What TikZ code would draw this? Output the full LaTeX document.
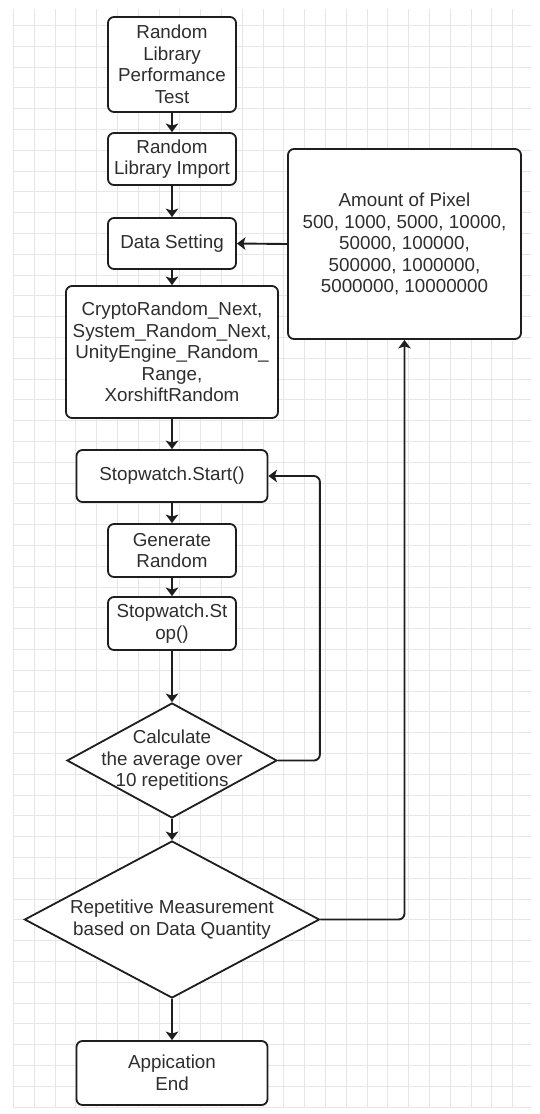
\documentclass[tikz,border=0pt]{standalone}
\usepackage{fontspec}
\setmainfont{Liberation Sans}
\usetikzlibrary{shapes.geometric, arrows.meta}
\definecolor{linecol}{HTML}{1E1E1E}
\definecolor{textcol}{HTML}{2E2E2E}
\definecolor{gridcol}{HTML}{E6E6E6}
\begin{document}
\begin{tikzpicture}[x=1pt, y=1pt]
        \tikzstyle{box-text}=[font=\fontsize{18.8}{21.5}\selectfont, text=textcol, align=center]
        \tikzstyle{process}=[box-text, rectangle, rounded corners=6pt, draw=linecol, line width=1.8pt, fill=white, inner sep=0pt, minimum width=128pt]
        \tikzstyle{decision}=[diamond, draw=linecol, line width=1.8pt, fill=white, inner sep=0pt]
        \tikzstyle{transition}=[-{Stealth[length=8.5pt, width=12.5pt, inset=2pt]}, line width=1.9pt, draw=linecol]
        \useasboundingbox (0,0) rectangle (540,-1114);
        \fill[white] (0,0) rectangle (540,-1114);
        % background grid
        \draw[gridcol, line width=0.7pt, shift={(13.3,-1107)}, step=20.8pt] (0,0) grid (518,1098);

        \node[process, minimum height=95pt] (test-start) at (172,-64.5) {Random\\Library\\Performance\\Test};
        \node[process, minimum height=52pt] (library-import) at (172,-159) {Random\\Library Import};
        \node[process, minimum height=51pt] (data-setting) at (172,-243.5) {Data Setting};
        \node[process, minimum width=212pt, minimum height=132pt] (random-libs) at (172,-352) {CryptoRandom\_Next,\\System\_Random\_Next,\\UnityEngine\_Random\_\\Range,\\XorshiftRandom};
        \node[process, minimum width=191pt, minimum height=52pt] (watch-start) at (172,-476) {Stopwatch.Start()};
        \node[process, minimum height=53pt] (generate) at (172,-550.5) {Generate\\Random};
        \node[process, minimum height=53pt] (watch-stop) at (172,-623.5) {Stopwatch.St\\op()};
        \node[decision, minimum width=210pt, minimum height=115pt, label={[box-text]center:Calculate\\the average over\\10 repetitions}] (average) at (172,-760.5) {};
        \node[decision, minimum width=295pt, minimum height=157pt, label={[box-text]center:Repetitive Measurement\\based on Data Quantity}] (measure) at (172,-919.5) {};
        \node[process, minimum width=191pt, minimum height=64pt] (app-end) at (172,-1073) {Appication\\End};
        \node[process, minimum width=233pt, minimum height=190pt] (pixel-amount) at (404.5,-244) {Amount of Pixel\\500, 1000, 5000, 10000,\\50000, 100000,\\500000, 1000000,\\5000000, 10000000};

        \draw[transition] (test-start) -- (library-import);
        \draw[transition] (library-import) -- (data-setting);
        \draw[transition] (data-setting) -- (random-libs);
        \draw[transition] (random-libs) -- (watch-start);
        \draw[transition] (watch-start) -- (generate);
        \draw[transition] (generate) -- (watch-stop);
        \draw[transition] (watch-stop) -- (average);
        \draw[transition] (average) -- (measure);
        \draw[transition] (measure) -- (app-end);
        \draw[transition] (pixel-amount.west) -- (data-setting.east);
        \draw[transition, rounded corners=6pt] (average.east) -- ++(42,0) |- (watch-start.east);
        \draw[transition, rounded corners=6pt] (measure.east) -| (pixel-amount.south);

    \end{tikzpicture}
\end{document}
